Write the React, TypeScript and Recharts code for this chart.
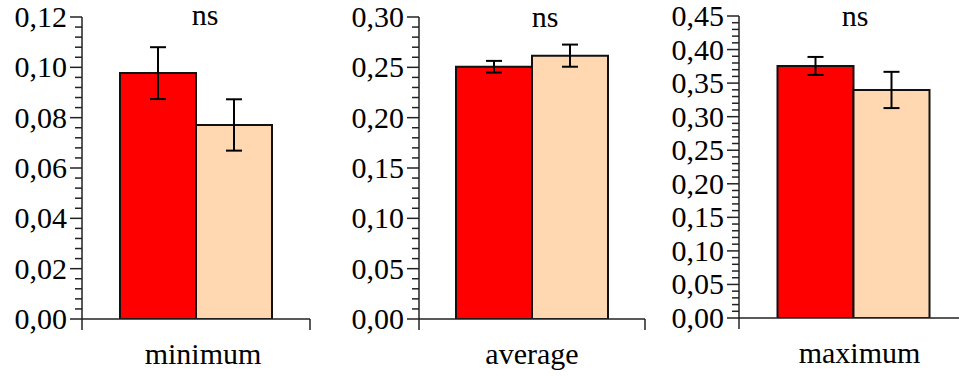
import React from 'react';
import { BarChart, Bar, XAxis, YAxis, ErrorBar } from 'recharts';

// ---- data ----
const categories = ['minimum', 'average', 'maximum'];
const redValues = [0.0977, 0.2506, 0.3756];
const redErrors = [0.0103, 0.0058, 0.0134];
const peachValues = [0.0771, 0.2616, 0.3398];
const peachErrors = [0.0102, 0.011, 0.027];
const significance = ['ns', 'ns', 'ns'];
const majorTicks1 = [0, 0.02, 0.04, 0.06, 0.08, 0.1, 0.12];
const majorTicks2 = [0, 0.05, 0.1, 0.15, 0.2, 0.25, 0.3];
const majorTicks3 = [0, 0.05, 0.1, 0.15, 0.2, 0.25, 0.3, 0.35, 0.4, 0.45];
const minorSubdivisions = [5, 5, 5];
// x position of the category group on a 0..1 frame; frame ends carry boundary ticks
const groupPosition = 0.5;
const frameTicks = [0, groupPosition, 1];

// ---- styles / layout ----
const FONT = '"Liberation Serif", "Times New Roman", serif';
const RED = '#ff0000';
const PEACH = '#ffd8b2';
const OUTLINE = '#111111';
const AXIS = '#222222';

const panels = [
  { left: 0, width: 320, axisW: 82, top: 17, bottom: 319, right: 10, labelDx: 7, nsX: 205, nsY: 25 },
  { left: 320, width: 330, axisW: 99, top: 17, bottom: 319, right: 5, labelDx: 0, nsX: 545, nsY: 27 },
  { left: 650, width: 330, axisW: 89, top: 16, bottom: 318, right: 12, labelDx: 6, nsX: 855, nsY: 26 },
];
const majorSets = [majorTicks1, majorTicks2, majorTicks3];
const X_AXIS_H = 50;

const fmt = (v: number) => v.toFixed(2).replace('.', ',');

function buildTicks(majors: number[], sub: number) {
  const out: number[] = [];
  for (let i = 0; i < majors.length - 1; i++) {
    const a = majors[i];
    const b = majors[i + 1];
    for (let k = 0; k < sub; k++) {
      out.push(Math.round((a + ((b - a) * k) / sub) * 100000) / 100000);
    }
  }
  out.push(majors[majors.length - 1]);
  return out;
}

const makeYTick = (majors: number[]) => (props: any) => {
  const { x, y, payload } = props;
  const v = payload.value as number;
  const isMajor = majors.some((m) => Math.abs(m - v) < 1e-7);
  return (
    <g>
      <line x1={x - (isMajor ? 12 : 7)} x2={x} y1={y} y2={y} stroke={AXIS} strokeWidth={1.5} />
      {isMajor && (
        <text x={x - 15} y={y + 10} textAnchor="end" fontFamily={FONT} fontSize={30} fill="#000">
          {fmt(v)}
        </text>
      )}
    </g>
  );
};

const makeXTick = (label: string, dx: number) => (props: any) => {
  const { x, y, payload } = props;
  if (payload.value === groupPosition) {
    return (
      <text x={x + dx} y={y + 45} textAnchor="middle" fontFamily={FONT} fontSize={30} fill="#000">
        {label}
      </text>
    );
  }
  return <line x1={x} x2={x} y1={y} y2={y + 11} stroke={AXIS} strokeWidth={1.5} />;
};

export default function App() {
  return (
    <div style={{ position: 'absolute', left: 0, top: 0, width: 959, height: 376, overflow: 'hidden', background: '#fff' }}>
      {categories.map((cat, i) => {
        const p = panels[i];
        const majors = majorSets[i];
        const ticks = buildTicks(majors, minorSubdivisions[i]);
        const data = [
          { pos: groupPosition, name: cat, red: redValues[i], redErr: redErrors[i], peach: peachValues[i], peachErr: peachErrors[i] },
        ];
        return (
          <div key={cat} style={{ position: 'absolute', left: p.left, top: 0 }}>
            <BarChart
              width={p.width}
              height={376}
              data={data}
              margin={{ top: p.top, right: p.right, left: 0, bottom: 376 - p.bottom - X_AXIS_H }}
              barSize={76}
              barGap={0}
            >
              <XAxis
                dataKey="pos"
                type="number"
                domain={[0, 1]}
                allowDataOverflow
                ticks={frameTicks}
                interval={0}
                height={X_AXIS_H}
                axisLine={{ stroke: AXIS, strokeWidth: 1.5 }}
                tickLine={false}
                tickSize={0}
                tickMargin={0}
                tick={makeXTick(cat, p.labelDx)}
              />
              <YAxis
                width={p.axisW}
                domain={[0, majors[majors.length - 1]]}
                allowDataOverflow
                ticks={ticks}
                interval={0}
                axisLine={{ stroke: AXIS, strokeWidth: 1.5 }}
                tickLine={false}
                tickSize={0}
                tickMargin={0}
                tick={makeYTick(majors)}
              />
              <Bar dataKey="red" fill={RED} stroke={OUTLINE} strokeWidth={2} isAnimationActive={false}>
                <ErrorBar dataKey="redErr" width={8} stroke="#000" strokeWidth={2} isAnimationActive={false} />
              </Bar>
              <Bar dataKey="peach" fill={PEACH} stroke={OUTLINE} strokeWidth={2} isAnimationActive={false}>
                <ErrorBar dataKey="peachErr" width={8} stroke="#000" strokeWidth={2} isAnimationActive={false} />
              </Bar>
            </BarChart>
          </div>
        );
      })}
      <svg width={959} height={376} style={{ position: 'absolute', left: 0, top: 0, pointerEvents: 'none' }}>
        {significance.map((s, i) => (
          <text key={i} x={panels[i].nsX} y={panels[i].nsY} textAnchor="middle" fontFamily={FONT} fontSize={30} fill="#000">
            {s}
          </text>
        ))}
      </svg>
    </div>
  );
}
